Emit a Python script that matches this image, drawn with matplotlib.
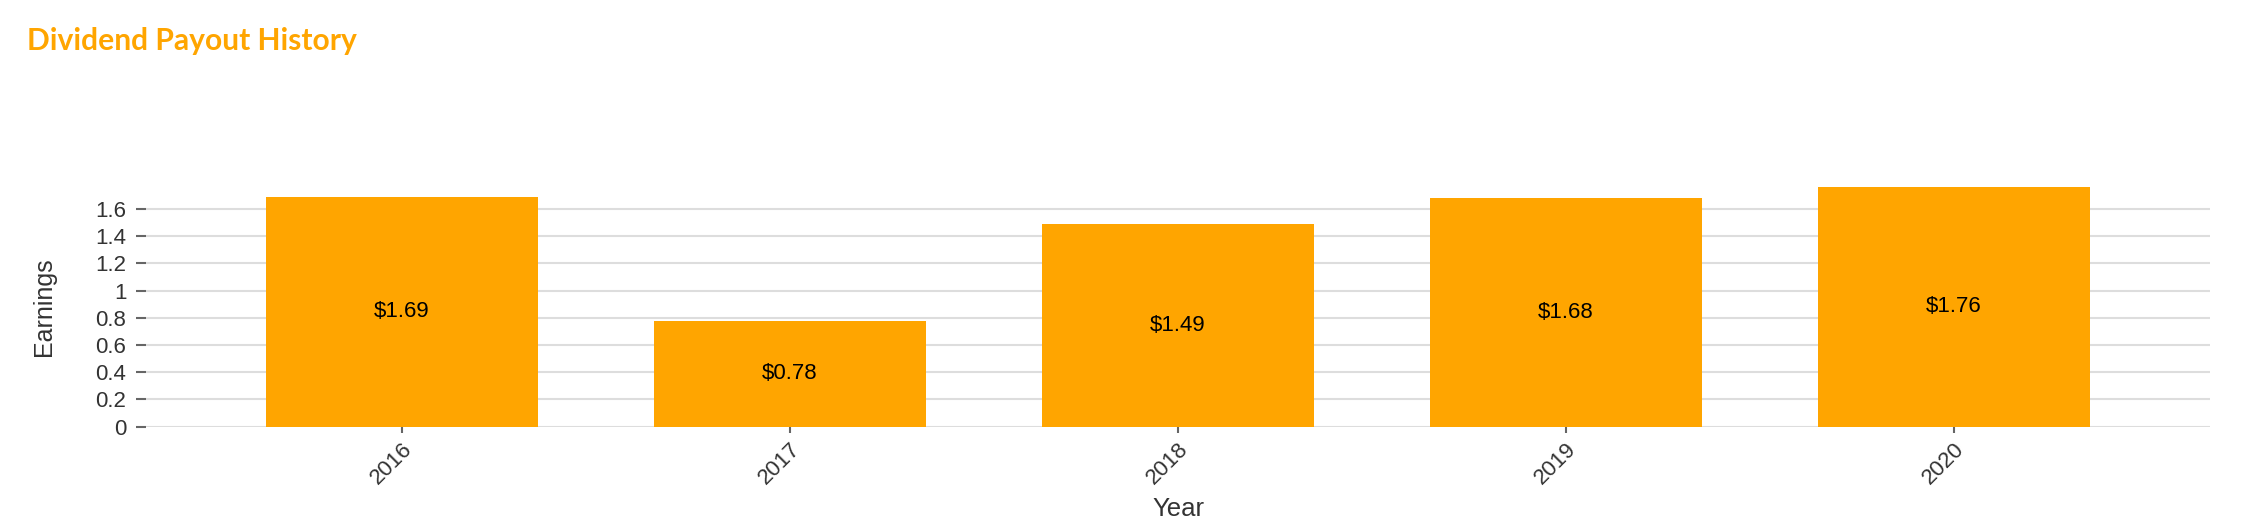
import matplotlib
matplotlib.use('Agg')
import matplotlib.pyplot as plt
import matplotlib.ticker as mticker
import numpy as np

# data
years = ['2016', '2017', '2018', '2019', '2020']
payouts = [1.69, 0.78, 1.49, 1.68, 1.76]
y_ticks = [0, 0.2, 0.4, 0.6, 0.8, 1.0, 1.2, 1.4, 1.6]

orange = '#FFA500'
plt.rcParams['font.family'] = ['Liberation Sans', 'DejaVu Sans']

fig = plt.figure(figsize=(22.64, 5.30), dpi=100)
ax = fig.add_axes([146 / 2264, 103.3 / 530, 2064 / 2264, 239.5 / 530])

x = np.arange(len(years))
bars = ax.bar(x, payouts, width=0.70, color=orange, zorder=2)

# labels in the middle of each bar
for xi, v in zip(x, payouts):
    ax.text(xi, v / 2, f'${v:.2f}', ha='center', va='center',
            fontsize=16, color='black', zorder=3)

ax.set_xlim(-0.66, len(years) - 1 + 0.66)
ax.set_ylim(0, max(payouts))

ax.set_yticks(y_ticks)
ax.yaxis.set_major_formatter(mticker.FuncFormatter(lambda v, p: f'{v:g}'))
ax.grid(axis='y', color='#dddddd', linewidth=1.5, zorder=0)
ax.set_axisbelow(True)

ax.set_xticks(x)
ax.set_xticklabels(years, rotation=45, ha='right', va='top', rotation_mode='anchor')

for s in ax.spines.values():
    s.set_visible(False)

ax.tick_params(axis='y', length=7.2, width=1.5, color='#666666', pad=7,
               labelsize=16, labelcolor='#333333')
ax.tick_params(axis='x', length=4.3, width=1.5, color='#666666', pad=4,
               labelsize=16, labelcolor='#333333')

ax.set_xlabel('Year', fontsize=18.5, color='#333333')
ax.xaxis.set_label_coords(0.5, -0.342)
ax.xaxis.label.set_va('center')
ax.set_ylabel('Earnings', fontsize=18, color='#333333')
ax.yaxis.set_label_coords(-0.0494, 0.5)
ax.yaxis.label.set_va('center')

fig.text(27 / 2264, 1 - 50 / 530, 'Dividend Payout History', family='Lato',
         fontweight='bold', fontsize=21.6, color=orange, ha='left', va='baseline')

fig.savefig('out.png', dpi=100)
